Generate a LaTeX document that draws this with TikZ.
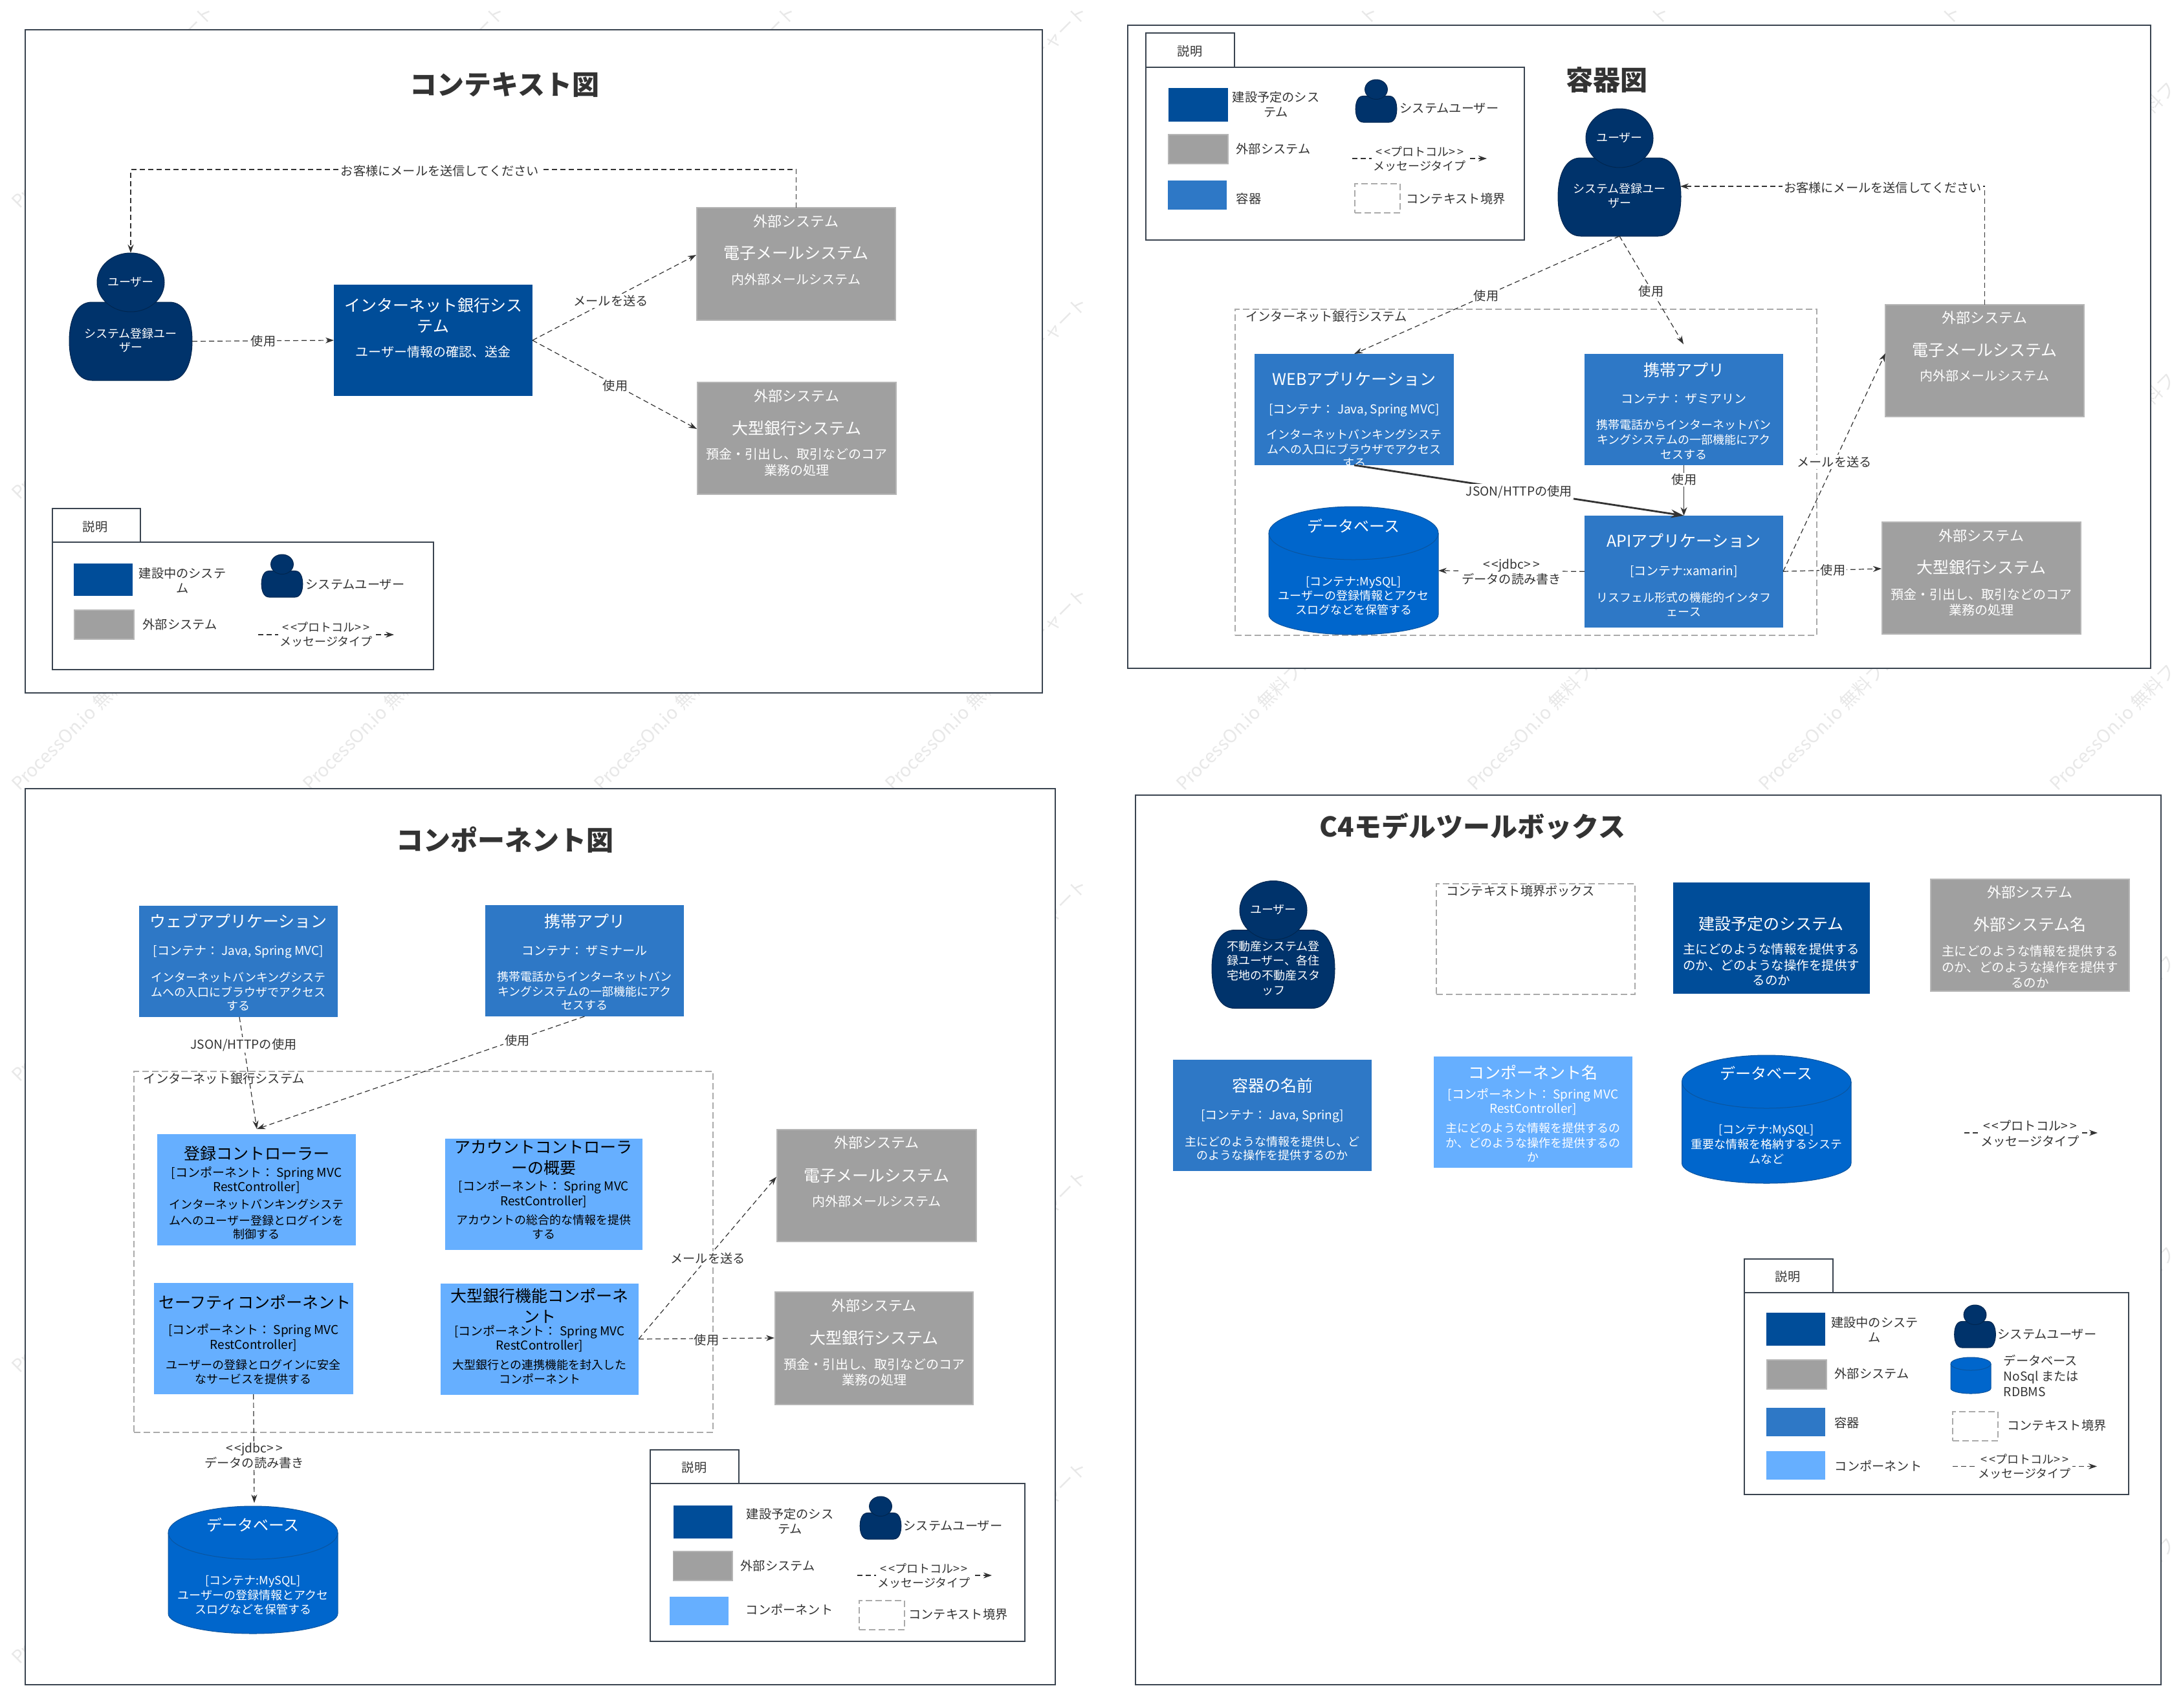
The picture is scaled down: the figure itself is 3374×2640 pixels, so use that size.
\documentclass[tikz,border=0pt]{standalone}
\usepackage{fontspec}
\setmainfont{Noto Sans CJK JP}
\usetikzlibrary{arrows.meta,shapes.geometric,calc}
\definecolor{sysc}{HTML}{004D99}
\definecolor{extc}{HTML}{A0A0A0}
\definecolor{extb}{HTML}{B6B6B6}
\definecolor{contc}{HTML}{2E78C6}
\definecolor{compc}{HTML}{66AFFF}
\definecolor{dbc}{HTML}{0066CC}
\definecolor{dbb}{HTML}{0A559F}
\definecolor{userc}{HTML}{00336B}
\definecolor{userb}{HTML}{00264F}
\definecolor{txtc}{HTML}{333333}
\definecolor{framec}{HTML}{3A4450}
\definecolor{bndc}{HTML}{AAAAAA}
\definecolor{wmc}{HTML}{E8E8E8}
\newlength\tlena
\newlength\tlenb
\newcommand{\ltlt}{<\kern1.5pt<}
\newcommand{\gtgt}{>\kern1.5pt>}
% one line of text, at absolute picture height #2 (px), size #3 (px), inside a box made by \mkbox
\newcommand{\tline}[4][0]{%
  \pgfmathsetlength\tlena{((#2)-\cy+0.36*(#3))*0.5}%
  \pgfmathsetlength\tlenb{(#1)}%
  \pgfmathsetmacro\fsz{(#3)*0.5}%
  \smash{\hbox to 0pt{\hss\kern\tlenb\lower\tlena\hbox{\fontsize{\fsz}{\fsz}\selectfont #4}\hss}}%
}
% name, x0, y0, x1, y1, style, lines
\newcommand{\mkbox}[7]{%
  \pgfmathsetmacro\cx{((#2)+(#4))/2}%
  \pgfmathsetmacro\cy{((#3)+(#5))/2}%
  \pgfmathsetmacro\bw{((#4)-(#2))*0.5}%
  \pgfmathsetmacro\bh{((#5)-(#3))*0.5}%
  \node[#6,minimum width=\bw pt,minimum height=\bh pt,inner sep=0pt,outer sep=0pt] (#1) at (\cx,\cy) {#7};%
}
% name, cx, top, scale, head lines, body lines
\newcommand{\mkperson}[6]{%
  \begin{scope}[shift={(#2,#3)},scale=#4]
    \path[persona] (-60,76) .. controls (-85,76) and (-95,105) .. (-95,136)
       .. controls (-95,167) and (-85,197) .. (-60,197) -- (60,197)
       .. controls (85,197) and (95,167) .. (95,136)
       .. controls (95,105) and (85,76) .. (60,76) -- cycle;
  \end{scope}
  \mkbox{#1}{#2-95*#4}{#3+76*#4}{#2+95*#4}{#3+197*#4}{text=white}{#6}
  \mkbox{#1-h}{#2-52*#4}{#3}{#2+52*#4}{#3+91*#4}{ellipse,persona,text=white}{#5}
}
% name, x0, y0, x1, y1, top ry, bottom ry, lines
\newcommand{\mkcyl}[8]{%
  \pgfmathsetmacro\crx{((#4)-(#2))*0.25}%
  \pgfmathsetmacro\cyt{(#3)+(#6)}%
  \pgfmathsetmacro\cyb{(#5)-(#7)}%
  \pgfmathsetmacro\crt{(#6)*0.5}%
  \pgfmathsetmacro\crb{(#7)*0.5}%
  \path[cyla] (#2,\cyt) arc[start angle=180,end angle=0,x radius=\crx pt,y radius=\crt pt]
     -- (#4,\cyb) arc[start angle=0,end angle=-180,x radius=\crx pt,y radius=\crb pt] -- cycle;
  \draw[dbb,line width=0.5pt] (#2,\cyt) arc[start angle=180,end angle=360,x radius=\crx pt,y radius=\crt pt];
  \mkbox{#1}{#2}{#3}{#4}{#5}{text=white}{#8}
}
\newcommand{\mklab}[4]{\node[lbl] (#1) at (#2,#3) {#4};}
\newcommand{\mktxt}[4]{\node[ltxt] (#1) at (#2,#3) {#4};}
\tikzset{
  frame/.style={draw=framec,line width=1pt,fill=white},
  bnd/.style={draw=bndc,line width=0.75pt,dash pattern=on 5pt off 2.5pt},
  sysb/.style={fill=sysc,text=white},
  extbx/.style={fill=extc,draw=extb,line width=0.6pt,text=white},
  contb/.style={fill=contc,text=white},
  compb/.style={fill=compc,text=black},
  compw/.style={fill=compc,text=white},
  persona/.style={fill=userc,draw=userb,line width=0.5pt},
  cyla/.style={fill=dbc,draw=dbb,line width=0.5pt},
  conn/.style={draw=txtc,line width=0.6pt,dash pattern=on 4pt off 2.5pt,-{Stealth[length=6.5pt,width=4.5pt]}},
  solidc/.style={draw=txtc,line width=0.8pt,-{Stealth[length=6.5pt,width=5pt]}},
  thickc/.style={draw=txtc,line width=1.4pt,-{Stealth[length=10pt,width=6.5pt]}},
  lbl/.style={fill=white,text=txtc,inner sep=1pt,align=center,font=\fontsize{9.6}{11.5}\selectfont},
  ltxt/.style={text=txtc,inner sep=0pt,align=center,font=\fontsize{9.6}{11.5}\selectfont},
  msg/.style={fill=white,text=txtc,inner sep=1pt,align=center,font=\fontsize{9}{11}\selectfont},
  ttl/.style={text=txtc,inner sep=0pt,font=\fontsize{21}{25}\selectfont\bfseries},
  wmark/.style={text=wmc,anchor=base,rotate=45,inner sep=0pt,font=\fontsize{14}{16}\selectfont},
}
\begin{document}
\begin{tikzpicture}[x=0.5pt,y=-0.5pt]
\useasboundingbox (0,0) rectangle (3374,2640);
\fill[white] (0,0) rectangle (3374,2640);
% watermark: only the letters that are not hidden by the white panels
\foreach \wy in {316,766,1216,1666,2116,2566}
 \foreach \wx in {24,474,924,1374,1824,2274,2724,3174}
  \foreach \ch/\pr in {P/8,r/22,o/35,c/50,e/65,s/79,s/93,O/110,n/129,./141,i/148,o/160,無/190,料/218,フ/246,ロ/274,ー/302,チ/330,ャ/358,ー/386,ト/414}{
    \pgfmathsetmacro\wmX{\wx+7+\pr*0.7071}
    \pgfmathsetmacro\wmY{\wy+7-\pr*0.7071}
    \pgfmathtruncatemacro\wmVis{((\wmX>12)&&(\wmX<3362)&&(\wmY>12)&&(\wmY<2628)&&!(
      ((\wmX>49)&&(\wmX<1601)&&(\wmY>56)&&(\wmY<1061))||
      ((\wmX>1753)&&(\wmX<3314)&&(\wmY>49)&&(\wmY<1023))||
      ((\wmX>49)&&(\wmX<1621)&&(\wmY>1229)&&(\wmY<2594))||
      ((\wmX>1765)&&(\wmX<3330)&&(\wmY>1239)&&(\wmY<2594))))?1:0}
    \ifnum\wmVis=1
      \node[wmark] (wm\wx-\wy-\pr) at (\wmX,\wmY) {\ch};
    \fi
  }

% ===== Panel 1 =====
\node[frame,minimum width=786pt,minimum height=512.5pt,inner sep=0pt,outer sep=0pt] (f1) at (825,558.5) {};
\node[ttl] (t1) at (780,131) {コンテキスト図};
\mkperson{p1u}{202}{391}{1}{\tline{436}{18}{ユーザー}}{\tline{516}{18}{システム登録ユー}\tline{537}{18}{ザー}}
\mkbox{p1sys}{516}{440}{823}{612}{sysb}{\tline{472}{25}{インターネット銀行シス}\tline{504}{25}{テム}\tline{544}{20}{ユーザー情報の確認、送金}}
\mkbox{p1em}{1077}{321}{1384}{495}{extbx}{\tline{343}{22}{外部システム}\tline{391}{25}{電子メールシステム}\tline{432}{20}{内外部メールシステム}}
\mkbox{p1bk}{1078}{591}{1385}{764}{extbx}{\tline{613}{22}{外部システム}\tline{662}{25}{大型銀行システム}\tline{702}{20}{預金・引出し、取引などのコア}\tline{727}{20}{業務の処理}}
\coordinate (p1em-in) at (1076,394);
\coordinate (p1bk-in) at (1077,663);
\draw[conn] (p1em.north) -- ++(0,-59) -| (p1u-h.north);
\draw[conn] (p1u.east) -- (p1sys.west);
\draw[conn] (p1sys.east) -- (p1em-in);
\draw[conn] (p1sys.east) -- (p1bk-in);
\mklab{l1a}{680}{264}{お客様にメールを送信してください}
\mklab{l1b}{407}{527}{使用}
\mklab{l1c}{944}{465}{メールを送る}
\mklab{l1d}{951}{596}{使用}
% legend 1
\node[frame,minimum width=68pt,minimum height=26pt,inner sep=0pt,outer sep=0pt] (lt1) at (149,812) {};
\node[frame,minimum width=294.5pt,minimum height=98.5pt,inner sep=0pt,outer sep=0pt] (lb1) at (375.5,936.5) {};
\mktxt{lt1t}{147}{814}{説明}
\mkbox{l1s}{114}{871}{205}{921}{sysb}{}
\mkbox{l1e}{115}{943}{207}{988}{extbx}{}
\mktxt{l1st}{282}{897}{建設中のシステ\\ム}
\mktxt{l1et}{278}{965}{外部システム}
\mkperson{l1p}{436}{857}{0.335}{}{}
\mktxt{l1pt}{549}{903}{システムユーザー}
\coordinate (l1ma) at (399,981);
\coordinate (l1mb) at (609,981);
\draw[conn] (l1ma) -- (l1mb);
\node[msg] (l1mt) at (504,981) {\ltlt プロトコル\gtgt\\メッセージタイプ};

% ===== Panel 2 =====
\node[frame,minimum width=790.5pt,minimum height=497pt,inner sep=0pt,outer sep=0pt] (f2) at (2533.5,536) {};
\node[ttl] (t2) at (2483,124) {容器図};
\mkbox{b2}{1909}{478}{2808}{982}{bnd}{}
\mktxt{b2t}{2050}{489}{インターネット銀行システム}
\mkperson{p2u}{2503}{168}{1}{\tline{213}{18}{ユーザー}}{\tline{292}{18}{システム登録ユー}\tline{314}{18}{ザー}}
\mkbox{p2web}{1939}{547}{2247}{719}{contb}{\tline{586}{25}{WEBアプリケーション}\tline{633}{19}{[コンテナ： Java, Spring MVC]}\tline{672}{18}{インターネットバンキングシステ}\tline{695}{18}{ムへの入口にブラウザでアクセス}\tline{716}{18}{する}}
\mkbox{p2mob}{2449}{547}{2756}{719}{contb}{\tline{572}{25}{携帯アプリ}\tline{617}{19}{コンテナ： ザミアリン}\tline{657}{18}{携帯電話からインターネットバン}\tline{680}{18}{キングシステムの一部機能にアク}\tline{703}{18}{セスする}}
\mkcyl{p2db}{1961}{783}{2223}{981}{41}{31}{\tline{814}{24}{データベース}\tline{899}{18}{[コンテナ:MySQL]}\tline{921}{18}{ユーザーの登録情報とアクセ}\tline{943}{18}{スログなどを保管する}}
\mkbox{p2api}{2449}{797}{2756}{969.5}{contb}{\tline{836}{25}{APIアプリケーション}\tline{882.5}{19}{[コンテナ:xamarin]}\tline{924}{18}{リスフェル形式の機能的インタフ}\tline{946}{18}{ェース}}
\mkbox{p2em}{2914}{471}{3221}{644}{extbx}{\tline{492}{22}{外部システム}\tline{541.5}{25}{電子メールシステム}\tline{581.5}{20}{内外部メールシステム}}
\mkbox{p2bk}{2909}{807}{3216}{980}{extbx}{\tline{829}{22}{外部システム}\tline{877.5}{25}{大型銀行システム}\tline{919}{20}{預金・引出し、取引などのコア}\tline{943}{20}{業務の処理}}
\coordinate (p2u-in) at (2597,288);
\coordinate (p2mob-in) at (2602,532);
\coordinate (p2em-in) at (2914,546);
\coordinate (p2bk-in) at (2908,879);
\draw[conn] (p2em.north) |- (p2u-in);
\draw[conn] (p2u.south) -- (p2web.north);
\draw[conn] (p2u.south) -- (p2mob-in);
\draw[thickc] (p2web.south) -- (p2api.north);
\draw[solidc] (p2mob.south) -- (p2api.north);
\draw[conn] (p2api.west) -- (p2db.east);
\draw[conn] (p2api.east) -- (p2em-in);
\draw[conn] (p2api.east) -- (p2bk-in);
\mklab{l2a}{2910}{290}{お客様にメールを送信してください}
\mklab{l2b}{2297}{457}{使用}
\mklab{l2c}{2552}{450}{使用}
\mklab{l2d}{2348}{760}{JSON/HTTPの使用}
\mklab{l2e}{2603}{741.5}{使用}
\mklab{l2f}{2336}{884}{\ltlt jdbc\gtgt\\データの読み書き}
\mklab{l2g}{2835}{714}{メールを送る}
\mklab{l2h}{2833}{881}{使用}
% legend 2
\node[frame,minimum width=68.5pt,minimum height=26.5pt,inner sep=0pt,outer sep=0pt] (lt2) at (1839.5,77.5) {};
\node[frame,minimum width=292.5pt,minimum height=133.5pt,inner sep=0pt,outer sep=0pt] (lb2) at (2063.5,237.5) {};
\mktxt{lt2t}{1839}{79}{説明}
\mkbox{l2s}{1806}{136}{1898}{188}{sysb}{}
\mkbox{l2x}{1806}{208}{1898}{253}{extbx}{}
\mkbox{l2k}{1805}{279}{1896}{324}{contb}{}
\mktxt{l2st}{1972}{161}{建設予定のシス\\テム}
\mktxt{l2xt}{1968}{230}{外部システム}
\mktxt{l2kt}{1930}{307}{容器}
\mkperson{l2p}{2127}{123}{0.335}{}{}
\mktxt{l2pt}{2240}{167}{システムユーザー}
\coordinate (l2ma) at (2090,245);
\coordinate (l2mb) at (2298,245);
\draw[conn] (l2ma) -- (l2mb);
\node[msg] (l2mt) at (2194,246) {\ltlt プロトコル\gtgt\\メッセージタイプ};
\mkbox{l2b0}{2094}{284}{2164}{329}{bnd}{}
\mktxt{l2bt}{2250}{307}{コンテキスト境界}

% ===== Panel 3 =====
\node[frame,minimum width=796pt,minimum height=692.5pt,inner sep=0pt,outer sep=0pt] (f3) at (835,1911.5) {};
\node[ttl] (t3) at (780,1298) {コンポーネント図};
\mkbox{b3}{207}{1656}{1102}{2214}{bnd}{}
\mktxt{b3t}{346.5}{1667}{インターネット銀行システム}
\mkbox{p3web}{215}{1400}{522}{1572}{contb}{\tline{1424}{25}{ウェブアプリケーション}\tline{1469.5}{19}{[コンテナ： Java, Spring MVC]}\tline{1510.5}{18}{インターネットバンキングシステ}\tline{1534}{18}{ムへの入口にブラウザでアクセス}\tline{1555}{18}{する}}
\mkbox{p3mob}{750}{1399}{1057}{1571}{contb}{\tline{1424}{25}{携帯アプリ}\tline{1469.5}{19}{コンテナ： ザミナール}\tline{1510}{18}{携帯電話からインターネットバン}\tline{1533}{18}{キングシステムの一部機能にアク}\tline{1554}{18}{セスする}}
\mkbox{p3reg}{243}{1753}{550}{1925}{compb}{\tline{1783}{25}{登録コントローラー}\tline{1813}{19}{[コンポーネント： Spring MVC}\tline{1835}{19}{RestController]}\tline{1862}{18}{インターネットバンキングシステ}\tline{1887}{18}{ムへのユーザー登録とログインを}\tline{1908}{18}{制御する}}
\mkbox{p3acc}{687.5}{1760}{993}{1932}{compb}{\tline{1773}{25}{アカウントコントローラ}\tline{1805}{25}{ーの概要}\tline{1834}{19}{[コンポーネント： Spring MVC}\tline{1857}{19}{RestController]}\tline{1886}{18}{アカウントの総合的な情報を提供}\tline{1908}{18}{する}}
\mkbox{p3saf}{238}{1982.5}{545.5}{2155}{compb}{\tline[2]{2013}{25}{セーフティコンポーネント}\tline{2056}{19}{[コンポーネント： Spring MVC}\tline{2079}{19}{RestController]}\tline{2110}{18}{ユーザーの登録とログインに安全}\tline{2132}{18}{なサービスを提供する}}
\mkbox{p3big}{681}{1983.5}{987}{2156}{compb}{\tline{2003}{25}{大型銀行機能コンポーネ}\tline{2035}{25}{ント}\tline{2058}{19}{[コンポーネント： Spring MVC}\tline{2080}{19}{RestController]}\tline{2110}{18}{大型銀行との連携機能を封入した}\tline{2132}{18}{コンポーネント}}
\mkbox{p3em}{1201}{1746}{1509}{1919}{extbx}{\tline{1767}{22}{外部システム}\tline{1817}{25}{電子メールシステム}\tline{1857}{20}{内外部メールシステム}}
\mkbox{p3bk}{1198}{1997}{1504}{2171}{extbx}{\tline{2019}{22}{外部システム}\tline{2068}{25}{大型銀行システム}\tline{2109}{20}{預金・引出し、取引などのコア}\tline{2133}{20}{業務の処理}}
\mkcyl{p3db}{260}{2328}{522}{2525}{41}{31}{\tline{2358}{24}{データベース}\tline{2443}{18}{[コンテナ:MySQL]}\tline{2466}{18}{ユーザーの登録情報とアクセ}\tline{2488}{18}{スログなどを保管する}}
\coordinate (p3reg-in) at (397,1745);
\coordinate (p3em-in) at (1200,1819);
\coordinate (p3bk-in) at (1197,2068);
\coordinate (p3db-in) at (393,2323);
\coordinate (p3web-o) at (370,1572);
\draw[conn] (p3web-o) -- (p3reg-in);
\draw[conn] (p3mob.south) -- (p3reg-in);
\draw[conn] (p3big.east) -- (p3em-in);
\draw[conn] (p3big.east) -- (p3bk-in);
\draw[conn] (p3saf.south) -- (p3db-in);
\mklab{l3a}{376.5}{1615}{JSON/HTTPの使用}
\mklab{l3b}{799.5}{1608}{使用}
\mklab{l3c}{1094}{1945}{メールを送る}
\mklab{l3d}{1092}{2071}{使用}
\mklab{l3e}{393}{2250}{\ltlt jdbc\gtgt\\データの読み書き}
% legend 3
\node[frame,minimum width=68.5pt,minimum height=26pt,inner sep=0pt,outer sep=0pt] (lt3) at (1073.5,2266.5) {};
\node[frame,minimum width=289.5pt,minimum height=122pt,inner sep=0pt,outer sep=0pt] (lb3) at (1294.5,2414.5) {};
\mktxt{lt3t}{1073}{2268}{説明}
\mkbox{l3s}{1040.5}{2327}{1132}{2378}{sysb}{}
\mkbox{l3x}{1040.5}{2398}{1132}{2443}{extbx}{}
\mkbox{l3k}{1035}{2467.5}{1125.5}{2512}{compw}{}
\mktxt{l3st}{1221}{2351}{建設予定のシス\\テム}
\mktxt{l3xt}{1202}{2420}{外部システム}
\mktxt{l3kt}{1220}{2488}{コンポーネント}
\mkperson{l3p}{1361}{2313}{0.335}{}{}
\mktxt{l3pt}{1473}{2358}{システムユーザー}
\coordinate (l3ma) at (1325,2435);
\coordinate (l3mb) at (1533,2435);
\draw[conn] (l3ma) -- (l3mb);
\node[msg] (l3mt) at (1428,2436) {\ltlt プロトコル\gtgt\\メッセージタイプ};
\mkbox{l3b0}{1328}{2474}{1398}{2519}{bnd}{}
\mktxt{l3bt}{1481}{2495.5}{コンテキスト境界}

% ===== Panel 4 =====
\node[frame,minimum width=792.5pt,minimum height=687.5pt,inner sep=0pt,outer sep=0pt] (f4) at (2547.5,1916.5) {};
\node[ttl] (t4) at (2276,1277) {C4モデルツールボックス};
\mkperson{p4u}{1968}{1361.5}{1}{\tline{1406}{18}{ユーザー}}{\tline{1463}{18}{不動産システム登}\tline{1485}{18}{録ユーザー、各住}\tline{1508}{18}{宅地の不動産スタ}\tline{1531}{18}{ッフ}}
\mkbox{p4c}{2220}{1366}{2527}{1537}{bnd}{}
\mktxt{p4ct}{2350}{1377}{コンテキスト境界ボックス}
\mkbox{p4s}{2585.5}{1364}{2890}{1536}{sysb}{\tline{1428}{25}{建設予定のシステム}\tline{1467}{19.5}{主にどのような情報を提供する}\tline{1492}{19.5}{のか、どのような操作を提供す}\tline{1515}{19.5}{るのか}}
\mkbox{p4e}{2984}{1359}{3291}{1532}{extbx}{\tline{1380}{22}{外部システム}\tline{1429.5}{25}{外部システム名}\tline{1470.5}{19.5}{主にどのような情報を提供する}\tline{1495}{19.5}{のか、どのような操作を提供す}\tline{1519}{19.5}{るのか}}
\mkbox{p4k}{1813}{1638}{2120}{1810}{contb}{\tline{1678}{25}{容器の名前}\tline{1724}{19}{[コンテナ： Java, Spring]}\tline{1765}{18}{主にどのような情報を提供し、ど}\tline{1786}{18}{のような操作を提供するのか}}
\mkbox{p4m}{2216}{1633}{2523}{1805}{compw}{\tline{1658}{25}{コンポーネント名}\tline{1692}{19}{[コンポーネント： Spring MVC}\tline{1714}{19}{RestController]}\tline{1744}{18}{主にどのような情報を提供するの}\tline{1766.5}{18}{か、どのような操作を提供するの}\tline{1789}{18}{か}}
\mkcyl{p4db}{2599.5}{1631}{2861}{1829}{41}{31}{\tline{1660}{24}{データベース}\tline{1746}{18}{[コンテナ:MySQL]}\tline{1769}{18}{重要な情報を格納するシステ}\tline{1792}{18}{ムなど}}
\coordinate (p4ma) at (3036,1751);
\coordinate (p4mb) at (3242,1751);
\draw[conn] (p4ma) -- (p4mb);
\node[msg,font=\fontsize{9.6}{12}\selectfont] (p4mt) at (3137.5,1752.5) {\ltlt プロトコル\gtgt\\メッセージタイプ};
% legend 4
\node[frame,minimum width=68.5pt,minimum height=26pt,inner sep=0pt,outer sep=0pt] (lt4) at (2764.5,1971.5) {};
\node[frame,minimum width=297pt,minimum height=156pt,inner sep=0pt,outer sep=0pt] (lb4) at (2993,2153.5) {};
\mktxt{lt4t}{2763}{1973}{説明}
\mkbox{l4s}{2730}{2029}{2821}{2080}{sysb}{}
\mkbox{l4x}{2731}{2102}{2823}{2147}{extbx}{}
\mkbox{l4k}{2730}{2176}{2821}{2220}{contb}{}
\mkbox{l4m}{2730}{2243}{2821}{2287}{compw}{}
\mktxt{l4st}{2897.5}{2055}{建設中のシステ\\ム}
\mktxt{l4xt}{2893}{2123}{外部システム}
\mktxt{l4kt}{2854.5}{2199.5}{容器}
\mktxt{l4mt}{2903}{2265.5}{コンポーネント}
\mkperson{l4p}{3052.5}{2017}{0.335}{}{}
\mktxt{l4pt}{3164}{2062}{システムユーザー}
\mkcyl{l4db}{3015}{2098}{3077}{2154}{10}{8}{}
\node[ltxt,align=left,font=\fontsize{9.6}{12}\selectfont] (l4dt) at (3155,2126) {データベース\\NoSql または\\RDBMS};
\mkbox{l4b0}{3018}{2182}{3088}{2227}{bnd}{}
\mktxt{l4bt}{3179}{2203}{コンテキスト境界}
\coordinate (l4ma) at (3018,2266.5);
\coordinate (l4mb) at (3241,2266.5);
\draw[conn] (l4ma) -- (l4mb);
\node[msg] (l4mtx) at (3129,2267) {\ltlt プロトコル\gtgt\\メッセージタイプ};
\end{tikzpicture}
\end{document}
